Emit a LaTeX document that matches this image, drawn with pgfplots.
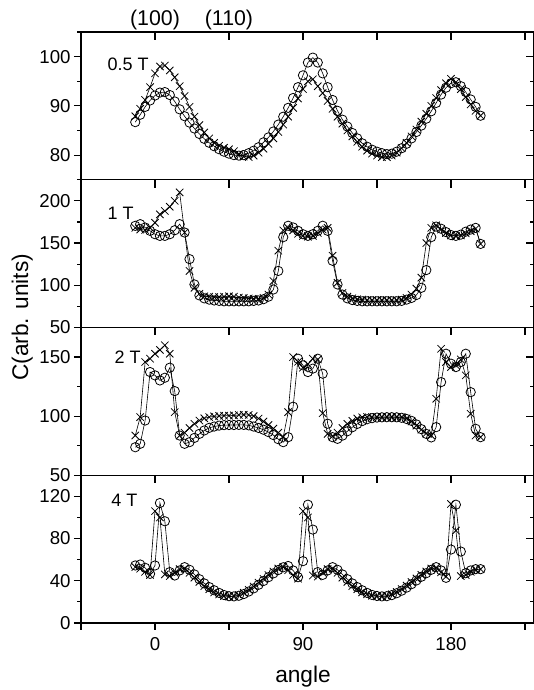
\documentclass[border=0pt]{standalone}
\usepackage{pgfplots}
\pgfplotsset{compat=1.18}
\usepackage{pgfplotstable}
\usepackage{fontspec}
\setmainfont{Liberation Sans}

% columns: angle, circles (o), crosses (c)
\pgfplotstableread{
x o c
-12 86.7 87.9
-9 88.2 89.4
-6 89.8 91.2
-3 91.1 93.8
0 92.1 96.6
3 92.7 98.0
6 92.8 98.2
9 92.2 97.2
12 90.9 95.8
15 89.3 94.0
18 87.9 92.0
21 86.6 89.8
24 85.4 87.8
27 84.3 86.1
30 83.3 84.6
33 82.5 83.4
36 81.8 82.5
39 81.2 81.9
42 80.7 81.5
45 80.3 81.2
48 80.0 80.8
51 79.9 80.2
54 80.0 79.7
57 80.4 79.6
60 80.9 79.9
63 81.6 80.5
66 82.6 81.3
69 83.6 82.3
72 84.8 83.4
75 86.2 84.7
78 87.8 86.2
81 89.6 87.8
84 91.6 89.6
87 93.8 91.5
90 96.2 93.4
93 98.8 95.0
96 99.8 95.4
99 98.8 94.0
102 96.6 92.6
105 93.8 91.0
108 91.2 89.4
111 89.0 87.8
114 87.2 86.4
117 85.8 85.0
120 84.5 83.8
123 83.4 82.7
126 82.4 81.7
129 81.7 80.9
132 81.1 80.3
135 80.7 79.9
138 80.4 79.6
141 80.2 79.6
144 80.3 79.9
147 80.7 80.5
150 81.4 81.4
153 82.3 82.5
156 83.4 83.8
159 84.7 85.2
162 86.0 86.8
165 87.4 88.4
168 88.9 90.0
171 90.6 91.6
174 92.3 93.2
177 93.7 94.6
180 94.6 95.5
183 94.8 94.8
186 94.0 93.4
189 92.8 91.8
192 91.3 90.3
195 89.8 89.0
198 88.0 88.0
}\tabA

\pgfplotstableread{
x o c
-12 170.4 168
-9 172.4 166
-6 168.4 165.5
-3 164.5 168
0 160.5 174
3 158.5 184
6 158.5 188
9 160.5 193
12 165.2 200
15 172.4 210
18 162.5 162.5
21 131 117
24 101 97
27 88 90
30 84.5 87
33 83 86.5
36 82 86
39 81.5 86
42 81 86.5
45 81 87
48 81 86.5
51 81 85.5
54 81 85
57 81 84.5
60 81.5 84
63 82 84
66 83.5 85
69 86.5 89
72 95 105
75 117 141
78 157 165
81 170.5 168
84 168.5 165
87 164.5 161
90 160.5 158.5
93 158.5 157.5
96 160.5 158.5
99 164.5 162
102 170.5 166
105 164.5 168
108 129 135
111 101 103
114 89 91
117 84.5 86.5
120 82.5 84.5
123 81.5 83.5
126 81 83
129 81 82.5
132 81 82.5
135 81 82.5
138 81 82.5
141 81 82.5
144 81 82.5
147 81 82.5
150 81.5 83
153 83 85
156 85 89
159 88.5 96
162 97 109
165 118 150
168 157 168
171 169.5 171
174 167 166
177 163 162
180 159.5 159
183 158.5 158
186 160 159
189 163.5 161.5
192 166 164
195 168 167
198 149 149
}\tabB

\pgfplotstableread{
x o c
-12 73.7 83.6
-9 76.6 99.2
-6 96.3 145.8
-3 137.3 148.6
0 134.5 152.8
3 130.2 156
6 132.5 160
9 141 152.8
12 121.2 103.4
15 83.6 83.6
18 76.6 86
21 78 90
24 81.6 93.5
27 85 96.3
30 87.9 98.2
33 90.1 99.2
36 91.2 99.8
39 92.0 100.2
42 92.4 100.4
45 92.5 100.4
48 92.5 100.6
51 92.6 101
54 92.6 101.2
57 92.2 101
60 91.2 100
63 90 98
66 88.5 95.5
69 86.5 92.5
72 84 89.5
75 80.5 86
78 78 82.5
81 82.2 103.4
84 108 150
87 148.6 146
90 143 141
93 137.3 144
96 140.2 148.6
99 148.6 148
102 135.9 102.5
105 93.6 85
108 82.2 83
111 80.8 86
114 83.5 90
117 87.2 93.5
120 90.6 96
123 93.4 98
126 95.8 99
129 97.4 99.3
132 98.3 99.3
135 98.8 99.3
138 99 99.3
141 99.1 99.3
144 99.1 99.3
147 99 99.3
150 98.6 99.3
153 97.6 98.2
156 96 95.5
159 93 92
162 89 88.5
165 85 85.5
168 82 83.6
171 90.7 114.7
174 128.8 157
177 152.8 145.8
180 144.4 141.5
183 141.5 143
186 145.8 148
189 152.8 134.5
192 120.3 102
195 89.3 83.6
198 82.2 82.2
}\tabC

\pgfplotstableread{
x o c
-12 54.5 53
-9 55.4 51.5
-6 52.3 48.5
-3 46.6 45.5
0 54.5 106
3 113.7 100
6 96.4 46
9 48.2 44.5
12 45 47.5
15 49.8 51
18 52.9 51.5
21 50.4 47.5
24 46 43
27 41.5 39
30 37.5 35
33 34 32
36 31 29
39 28.5 27
42 26.5 25.6
45 25.4 25
48 25.2 25.3
51 25.8 26.5
54 27.4 28.6
57 29.8 31.4
60 32.8 34.6
63 36.2 38.2
66 39.8 41.8
69 43.4 45.4
72 47 48.8
75 50.2 51.6
78 52.8 53
81 54 50
84 49.8 45.5
87 43.4 42
90 58.6 106
93 112.1 100
96 88.5 45
99 48.2 44
102 45.6 47.5
105 49.8 51
108 52.9 51.5
111 50.4 47.5
114 46 43
117 41.5 39
120 37.5 35
123 34 32
126 31 29
129 28.5 27.2
132 26.6 25.8
135 25.6 25.2
138 25.2 25.2
141 25.4 25.8
144 26.4 27.2
147 28.2 29.4
150 30.6 32.2
153 33.5 35.4
156 36.8 38.8
159 40.3 42.2
162 43.8 45.6
165 47.2 48.8
168 50.4 51.6
171 52.9 52.5
174 49.8 48
177 42.8 44
180 69.6 112.8
183 112.1 87.6
186 67.7 44.5
189 47.2 45.5
192 49.8 48.5
195 51 50.5
198 51 51
}\tabD

\pgfplotsset{
  panel/.style={
    width=339.75pt, height=110.81pt, scale only axis,
    xmin=-45, xmax=230.5,
    xtick={-45,0,45,90,135,180,225}, xticklabels={},
    axis line style={line width=1.1pt},
    tick style={black, line width=0.9pt},
    tick align=outside, tick pos=left,
    major tick length=5.25pt, minor tick length=2.8pt,
    tick label style={font=\fontsize{14}{16}\selectfont},
    yticklabel style={xshift=1pt},
    xticklabel style={yshift=-2pt},
    /pgf/number format/assume math mode=true,
    clip mode=individual,
  },
  rticks/.style={
    width=339.75pt, height=110.81pt, scale only axis,
    xmin=-45, xmax=230.5,
    xtick={-45,0,45,90,135,180,225}, xticklabels={}, yticklabels={},
    axis line style={line width=1.1pt},
    tick style={black, line width=0.9pt},
    tick align=inside, tick pos=right,
    major tick length=6pt, minor tick length=2.8pt,
  },
  oser/.style={black, line width=0.45pt, mark=o, mark size=3.5pt,
    mark options={solid, line width=0.6pt}},
  xser/.style={black, line width=0.45pt, mark=x, mark size=3.9pt,
    mark options={solid, line width=0.6pt}},
}
\tikzset{plab/.style={anchor=west, font=\fontsize{13.5}{15}\selectfont}}

\begin{document}
\begin{tikzpicture}
% 0.5 T
\begin{axis}[panel, name=p1, at={(0,0)}, anchor=north west,
  ymin=75, ymax=105, ytick={80,90,100}, minor ytick={75,85,95,105}]
  \addplot[oser] table[x=x, y=o] {\tabA};
  \addplot[xser] table[x=x, y=c] {\tabA};
  \node[plab, xshift=16.5pt, yshift=-24pt] at (rel axis cs:0,1) {0.5 T};
  \node[anchor=base, yshift=5.25pt, font=\fontsize{16}{18}\selectfont] at (axis cs:0,105) {(100)};
  \node[anchor=base, yshift=5.25pt, font=\fontsize{16}{18}\selectfont] at (axis cs:45,105) {(110)};
\end{axis}
\begin{axis}[rticks, at={(p1.south west)}, anchor=south west,
  ymin=75, ymax=105, ytick={80,90,100}, minor ytick={75,85,95,105}]
\end{axis}
% 1 T
\begin{axis}[panel, name=p2, at={(p1.south west)}, anchor=north west,
  ymin=50, ymax=225, ytick={50,100,150,200}, minor ytick={75,125,175,225}]
  \addplot[oser] table[x=x, y=o] {\tabB};
  \addplot[xser] table[x=x, y=c] {\tabB};
  \node[plab, xshift=16.5pt, yshift=-25.3pt] at (rel axis cs:0,1) {1 T};
\end{axis}
\begin{axis}[rticks, at={(p2.south west)}, anchor=south west,
  ymin=50, ymax=225, ytick={50,100,150,200}, minor ytick={75,125,175,225}]
\end{axis}
% 2 T
\begin{axis}[panel, name=p3, at={(p2.south west)}, anchor=north west,
  ymin=50, ymax=175, ytick={50,100,150}, minor ytick={75,125,175}]
  \addplot[oser] table[x=x, y=o] {\tabC};
  \addplot[xser] table[x=x, y=c] {\tabC};
  \node[plab, xshift=21.75pt, yshift=-22pt] at (rel axis cs:0,1) {2 T};
\end{axis}
\begin{axis}[rticks, at={(p3.south west)}, anchor=south west,
  ymin=50, ymax=175, ytick={50,100,150}, minor ytick={75,125,175}]
\end{axis}
% 4 T
\begin{axis}[panel, name=p4, at={(p3.south west)}, anchor=north west,
  ymin=0, ymax=140, ytick={0,40,80,120}, minor ytick={20,60,100,140},
  xticklabels={,0,,90,,180,}]
  \addplot[oser] table[x=x, y=o] {\tabD};
  \addplot[xser] table[x=x, y=c] {\tabD};
  \node[plab, xshift=19.3pt, yshift=-18.75pt] at (rel axis cs:0,1) {4 T};
\end{axis}
\begin{axis}[rticks, at={(p4.south west)}, anchor=south west,
  ymin=0, ymax=140, ytick={0,40,80,120}, minor ytick={20,60,100,140}]
\end{axis}
% axis titles
\node[rotate=90, font=\fontsize{17}{20}\selectfont] at (-44pt,-214pt) {C(arb. units)};
\node[font=\fontsize{17}{20}\selectfont] at (166.5pt,-483.5pt) {angle};
\pgfresetboundingbox
\path[use as bounding box] (-60.75pt,24pt) rectangle (339pt,-493.5pt);
\end{tikzpicture}
\end{document}
